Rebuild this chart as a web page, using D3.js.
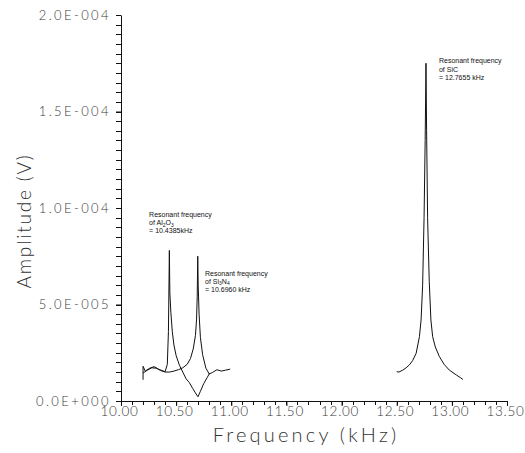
<!DOCTYPE html>
<html>
<head>
<meta charset="utf-8">
<script src="https://cdn.jsdelivr.net/npm/d3@7"></script>
<style>
  html, body { margin: 0; padding: 0; background: #fff; }
  svg { display: block; }
</style>
</head>
<body>
<svg id="chart" width="525" height="453"></svg>
<script>
// Frequency sweeps (kHz) and measured amplitude (V) of the three specimens
const al2o3Freq = [10.20, 10.20, 10.22, 10.26, 10.30, 10.34, 10.37, 10.40, 10.42, 10.43, 10.4385,
  10.443, 10.452, 10.465, 10.48, 10.50, 10.53, 10.56, 10.59, 10.62, 10.65, 10.675, 10.698,
  10.72, 10.75, 10.78, 10.805];
const al2o3Amp = [1.10e-5, 1.80e-5, 1.55e-5, 1.70e-5, 1.78e-5, 1.65e-5, 1.58e-5, 1.52e-5, 1.9e-5, 3.6e-5, 7.8e-5,
  5.6e-5, 4.6e-5, 3.6e-5, 2.9e-5, 2.35e-5, 1.85e-5, 1.5e-5, 1.15e-5, 0.95e-5, 0.65e-5, 0.42e-5, 0.22e-5,
  0.5e-5, 0.9e-5, 1.2e-5, 1.45e-5];

const si3n4Freq = [10.20, 10.24, 10.28, 10.32, 10.36, 10.40, 10.44, 10.48, 10.52, 10.56, 10.60,
  10.63, 10.655, 10.675, 10.685, 10.691, 10.696, 10.700, 10.708, 10.72, 10.74, 10.77, 10.80,
  10.83, 10.87, 10.91, 10.95, 10.99];
const si3n4Amp = [1.45e-5, 1.6e-5, 1.72e-5, 1.7e-5, 1.58e-5, 1.5e-5, 1.5e-5, 1.55e-5, 1.62e-5, 1.72e-5, 1.9e-5,
  2.2e-5, 2.7e-5, 3.4e-5, 4.2e-5, 5.4e-5, 7.5e-5, 6.0e-5, 4.5e-5, 3.3e-5, 2.4e-5, 1.7e-5, 1.4e-5,
  1.48e-5, 1.62e-5, 1.55e-5, 1.6e-5, 1.65e-5];

const sicFreq = [12.50, 12.52, 12.555, 12.585, 12.615, 12.645, 12.676, 12.706, 12.721, 12.735, 12.748,
  12.758, 12.7655, 12.771, 12.78, 12.795, 12.81, 12.826, 12.85, 12.887, 12.93, 12.977, 13.04,
  13.08, 13.10];
const sicAmp = [1.52e-5, 1.5e-5, 1.6e-5, 1.72e-5, 1.87e-5, 2.1e-5, 2.47e-5, 3.33e-5, 4.2e-5, 6.0e-5, 9.5e-5,
  13.5e-5, 17.5e-5, 14.0e-5, 9.5e-5, 6.2e-5, 4.2e-5, 3.33e-5, 2.8e-5, 2.3e-5, 1.9e-5, 1.6e-5, 1.35e-5,
  1.2e-5, 1.12e-5];

// Axis ticks and their labels
const xTicks = [10.00, 10.50, 11.00, 11.50, 12.00, 12.50, 13.00, 13.50];
const xTickLabels = ["10.00", "10.50", "11.00", "11.50", "12.00", "12.50", "13.00", "13.50"];
const yTicks = [0, 5e-5, 1e-4, 1.5e-4, 2e-4];
const yTickLabels = ["0.0E+000", "5.0E-005", "1.0E-004", "1.5E-004", "2.0E-004"];

// Resonance annotations (subscripts are given as one-element arrays)
const notes = [
  { lines: [["Resonant frequency"], ["of Al", ["2"], "O", ["3"]], ["= 10.4385kHz"]], f: 10.255, a: 9.55e-5 },
  { lines: [["Resonant frequency"], ["of Si", ["3"], "N", ["4"]], ["= 10.6960 kHz"]], f: 10.762, a: 6.5e-5 },
  { lines: [["Resonant frequency"], ["of SiC"], ["= 12.7655 kHz"]], f: 12.883, a: 17.5e-5 }
];

const svg = d3.select("#chart");
const x = d3.scaleLinear().domain([10.0, 13.5]).range([121, 507]);
const y = d3.scaleLinear().domain([0, 2e-4]).range([401, 15]);

const font = "Lato, 'Open Sans', 'DejaVu Sans', sans-serif";

// Minor ticks: every 0.1 kHz and every 5 µV
const minorX = d3.range(0, 36).map(i => 10 + i * 0.1);
const minorY = d3.range(0, 41).map(i => i * 5e-6);
svg.append("g").selectAll("line").data(minorX).join("line")
  .attr("x1", d => Math.round(x(d)) + 0.5).attr("x2", d => Math.round(x(d)) + 0.5)
  .attr("y1", y(0)).attr("y2", y(0) + 4)
  .attr("stroke", "#111").attr("stroke-width", 1);
svg.append("g").selectAll("line").data(minorY).join("line")
  .attr("y1", d => Math.round(y(d)) + 0.5).attr("y2", d => Math.round(y(d)) + 0.5)
  .attr("x1", x(10) - 5).attr("x2", x(10))
  .attr("stroke", "#111").attr("stroke-width", 1);

// Major axes
const xAxis = svg.append("g")
  .attr("transform", `translate(0,${y(0)})`)
  .call(d3.axisBottom(x).tickValues(xTicks).tickSize(5).tickSizeOuter(0)
    .tickFormat((d, i) => xTickLabels[i]));
xAxis.select(".domain").attr("stroke", "#111");
xAxis.selectAll("line").attr("stroke", "#111");
xAxis.selectAll("text")
  .attr("font-family", font).attr("font-weight", 300).attr("fill", "#3a3a3a")
  .attr("font-size", 13.5).attr("letter-spacing", 0.7).attr("dy", "0.85em").attr("y", 4)
  .attr("x", -2);

const yAxis = svg.append("g")
  .attr("transform", `translate(${x(10)},0)`)
  .call(d3.axisLeft(y).tickValues(yTicks).tickSize(5).tickSizeOuter(0)
    .tickFormat((d, i) => yTickLabels[i]));
yAxis.select(".domain").attr("stroke", "#111");
yAxis.selectAll("line").attr("stroke", "#111");
yAxis.selectAll("text")
  .attr("font-family", font).attr("font-weight", 300).attr("fill", "#3a3a3a")
  .attr("font-size", 13).attr("letter-spacing", 2.4).attr("x", -10);

// Axis titles
svg.append("text")
  .attr("x", 306).attr("y", 442).attr("text-anchor", "middle")
  .attr("font-family", font).attr("font-weight", 300).attr("font-size", 20)
  .attr("letter-spacing", 3.2).attr("fill", "#333")
  .text("Frequency (kHz)");
svg.append("text")
  .attr("transform", "translate(31,221) rotate(-90)").attr("text-anchor", "middle")
  .attr("font-family", font).attr("font-weight", 300).attr("font-size", 19)
  .attr("letter-spacing", 1.8).attr("fill", "#333")
  .text("Amplitude (V)");

// Response curves
const line = d3.line().x(d => x(d[0])).y(d => y(d[1]));
const series = [
  d3.zip(al2o3Freq, al2o3Amp),
  d3.zip(si3n4Freq, si3n4Amp),
  d3.zip(sicFreq, sicAmp)
];
svg.append("g").selectAll("path").data(series).join("path")
  .attr("d", line)
  .attr("fill", "none")
  .attr("stroke", "#111")
  .attr("stroke-width", 1)
  .attr("stroke-linejoin", "round");

// Annotation text blocks
notes.forEach(n => {
  const t = svg.append("text")
    .attr("font-family", "'Liberation Sans', Arial, sans-serif")
    .attr("font-size", 7).attr("fill", "#111");
  n.lines.forEach((parts, li) => {
    const row = t.append("tspan").attr("x", x(n.f)).attr("y", y(n.a) + li * 8.3);
    let lowered = false;
    parts.forEach(p => {
      if (Array.isArray(p)) {
        row.append("tspan").attr("font-size", 5).attr("dy", lowered ? 0 : 1.6).text(p[0]);
        lowered = true;
      } else {
        row.append("tspan").attr("dy", lowered ? -1.6 : 0).text(p);
        lowered = false;
      }
    });
  });
});
</script>
</body>
</html>
